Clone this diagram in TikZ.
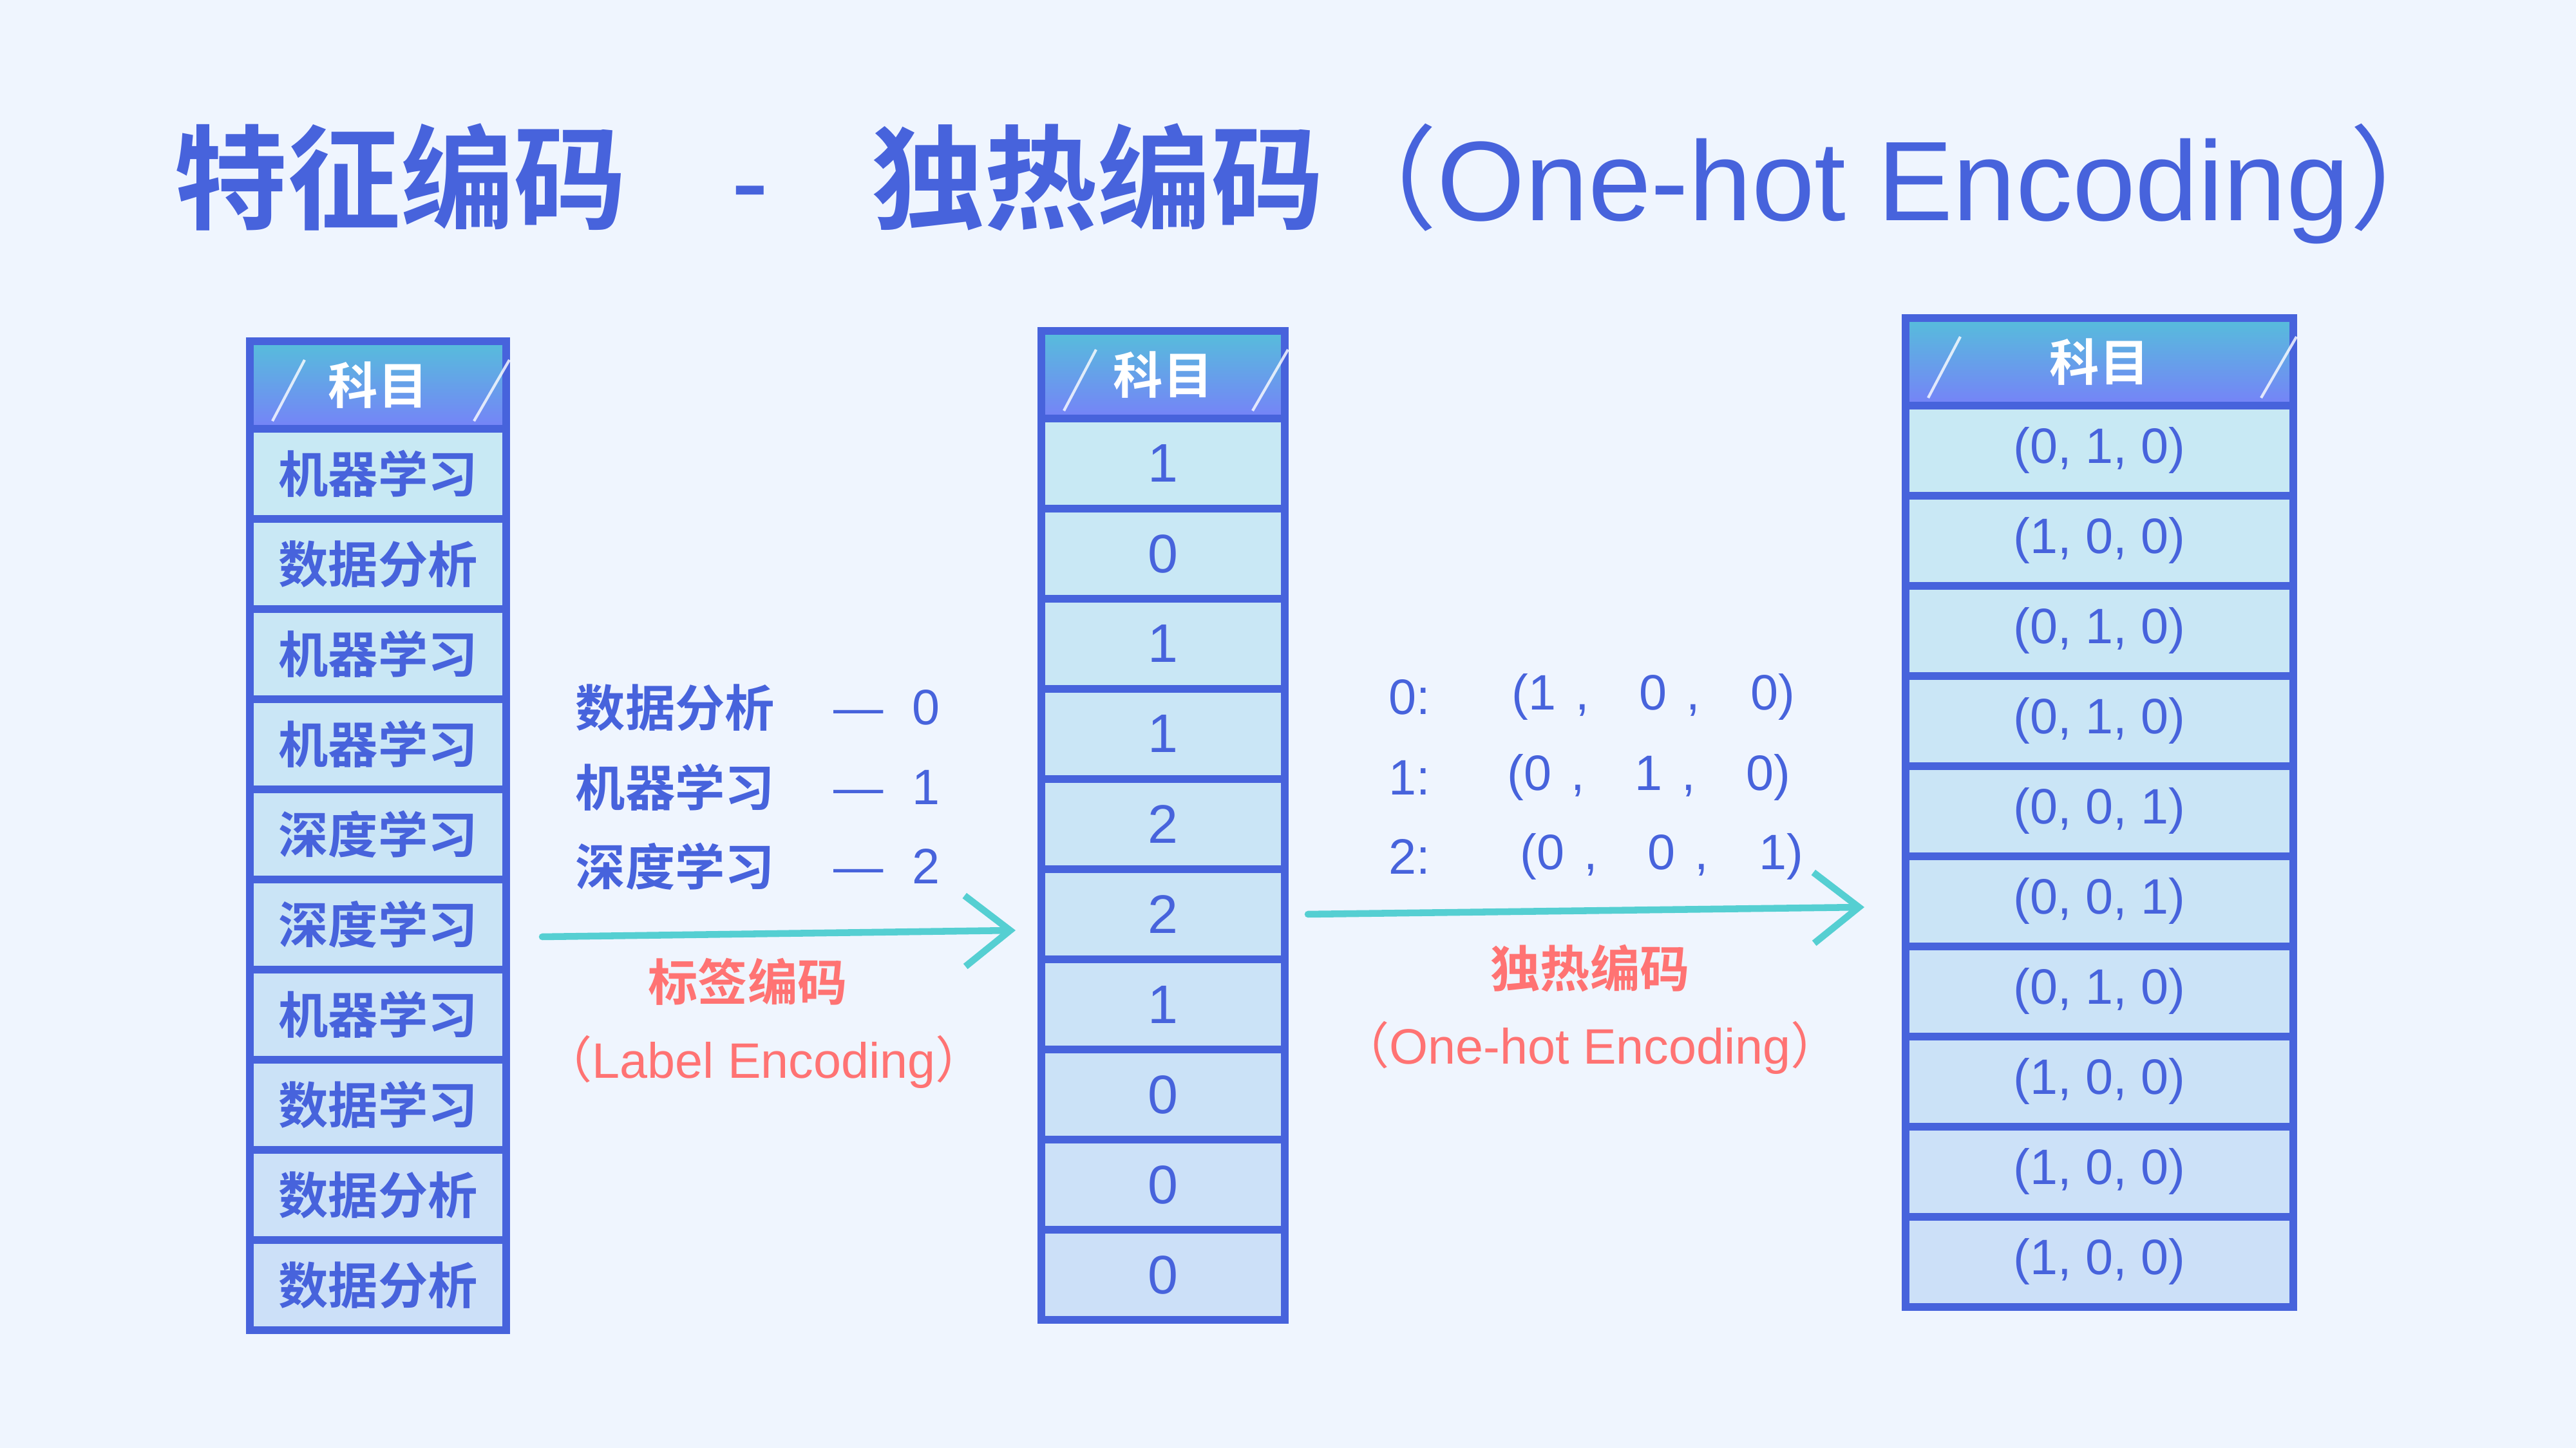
\documentclass[tikz,border=0pt]{standalone}
\usepackage{fontspec}
\setmainfont{Liberation Sans}
\newfontfamily\cjk{Noto Sans CJK SC}[BoldFont={Noto Sans CJK SC Bold}]
\usetikzlibrary{arrows.meta,positioning,calc}
\definecolor{encBg}{HTML}{EFF5FE}
\definecolor{encBlue}{HTML}{4763DC}
\definecolor{encCell}{HTML}{C8EAF4}
\definecolor{encCellLow}{HTML}{CCE0F8}
\definecolor{encHeadTop}{HTML}{56BEDB}
\definecolor{encHeadBot}{HTML}{7682F8}
\definecolor{encArrow}{HTML}{55CFD2}
\definecolor{encRed}{HTML}{FF7373}
\tikzset{
  enccell/.style={draw=encBlue,line width=3.4pt,outer sep=0pt,inner sep=0pt,minimum height=14mm,
                  text=encBlue,fill=encCell},
  enchead/.style={enccell,minimum height=13.6mm,top color=encHeadTop,bottom color=encHeadBot,
                  text=white,font=\cjk\bfseries\fontsize{22}{26}\selectfont},
  encword/.style={font=\cjk\bfseries\fontsize{22}{26}\selectfont},
  encnum/.style={font=\fontsize{24}{28}\selectfont},
  encmap/.style={font=\fontsize{22}{26}\selectfont},
  enctxt/.style={text=encBlue,inner sep=0pt,anchor=west},
  encred/.style={text=encRed,inner sep=0pt},
  encflow/.style={-{Straight Barb[length=7mm,width=11mm]},draw=encArrow,line width=3pt,line cap=round},
  encglint/.style={draw=white,line width=1.2pt,opacity=.8},
}

\begin{document}
\begin{tikzpicture}
  \fill[encBg] (0,0) rectangle (40,22.49);
  \useasboundingbox (0,0) rectangle (40,22.49);

  \node[anchor=base west,inner sep=0pt,text=encBlue,font=\fontsize{50}{60}\selectfont] (title) at (2.70,19.06)
    {{\cjk\bfseries 特征编码}\hspace{16.2mm}-\hspace{15.9mm}{\cjk\bfseries 独热编码}{\cjk （}One-hot Encoding{\cjk ）}};

  % subject column
  \node[enchead,minimum width=39.8mm] (L0) at (5.87,16.51) {科目};
  \foreach \w [count=\i] in {机器学习,数据分析,机器学习,机器学习,深度学习,深度学习,机器学习,数据学习,数据分析,数据分析}{
    \pgfmathtruncatemacro\j{\i-1}\pgfmathtruncatemacro\p{\i*10}
    \node[enccell,encword,minimum width=39.8mm,fill=encCellLow!\p!encCell,below=0pt of L\j] (L\i) {\w};
  }

  % label encoded column
  \node[enchead,minimum width=37.8mm] (M0) at (18.06,16.67) {科目};
  \foreach \v [count=\i] in {1,0,1,1,2,2,1,0,0,0}{
    \pgfmathtruncatemacro\j{\i-1}\pgfmathtruncatemacro\p{\i*10}
    \node[enccell,encnum,minimum width=37.8mm,fill=encCellLow!\p!encCell,below=0pt of M\j] (M\i) {\v};
  }

  % one-hot column
  \node[enchead,minimum width=60.2mm] (R0) at (32.60,16.87) {科目};
  \foreach \a/\b/\c [count=\i] in {0/1/0,1/0/0,0/1/0,0/1/0,0/0/1,0/0/1,0/1/0,1/0/0,1/0/0,1/0/0}{
    \pgfmathtruncatemacro\j{\i-1}\pgfmathtruncatemacro\p{\i*10}
    \node[enccell,encmap,minimum width=60.2mm,fill=encCellLow!\p!encCell,below=0pt of R\j] (R\i) {(\a, \b, \c)};
  }

  \foreach \t in {L,M,R}{
    \draw[encglint] ($(\t0.south west)+(0.35,0.12)$) -- ++(0.5,0.95);
    \draw[encglint] ($(\t0.south east)+(-0.5,0.12)$) -- ++(0.55,0.95);
  }

  % label encoding mapping
  \node[enctxt,encword] (k1) at (8.93,11.50) {数据分析};
  \node[enctxt,encword] (k2) at (8.93,10.26) {机器学习};
  \node[enctxt,encword] (k3) at (8.93,9.03) {深度学习};
  \node[enctxt,encmap,right=9mm of k1] (v1) {—\hspace{4.5mm}0};
  \node[enctxt,encmap,right=9mm of k2] (v2) {—\hspace{4.5mm}1};
  \node[enctxt,encmap,right=9mm of k3] (v3) {—\hspace{4.5mm}2};

  \coordinate (a1s) at (8.42,7.94);
  \coordinate (a1e) at (15.77,8.04);
  \draw[encflow] (a1s) -- (a1e);
  \node[encred,encword] (lab1) at (11.61,7.24) {标签编码};
  \node[encred,encmap] (lab1e) at (11.86,6.00) {{\cjk （}Label Encoding{\cjk ）}};

  % one-hot mapping
  \node[enctxt,encmap] (c1) at (21.56,11.66) {0:};
  \node[enctxt,encmap] (c2) at (21.56,10.41) {1:};
  \node[enctxt,encmap] (c3) at (21.56,9.18) {2:};
  \node[enctxt,encmap] (t1) at (23.47,11.66) {(1\hspace{3mm},\hspace{7.8mm}0\hspace{3mm},\hspace{7.8mm}0)};
  \node[enctxt,encmap] (t2) at (23.40,10.41) {(0\hspace{3mm},\hspace{7.8mm}1\hspace{3mm},\hspace{7.8mm}0)};
  \node[enctxt,encmap] (t3) at (23.60,9.18) {(0\hspace{3mm},\hspace{7.8mm}0\hspace{3mm},\hspace{7.8mm}1)};

  \coordinate (a2s) at (20.31,8.29);
  \coordinate (a2e) at (28.95,8.40);
  \draw[encflow] (a2s) -- (a2e);
  \node[encred,encword] (lab2) at (24.69,7.45) {独热编码};
  \node[encred,encmap] (lab2e) at (24.69,6.22) {{\cjk （}One-hot Encoding{\cjk ）}};
\end{tikzpicture}
\end{document}
